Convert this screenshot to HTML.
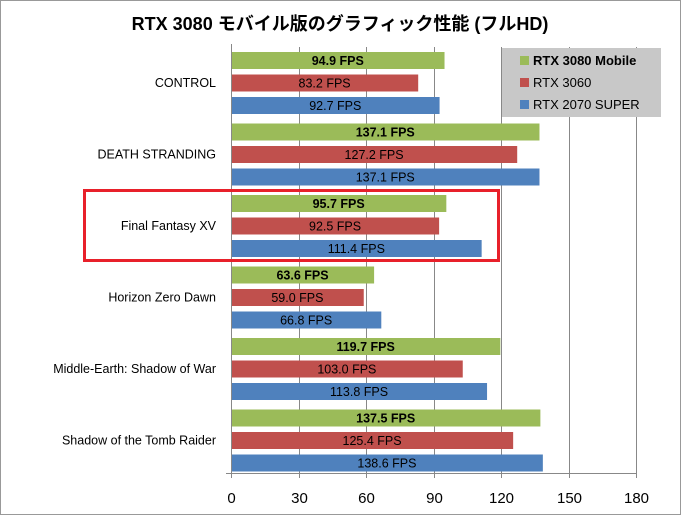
<!DOCTYPE html>
<html><head><meta charset="utf-8"><style>
html,body{margin:0;padding:0;background:#fff}
svg{display:block}
text{font-family:"Liberation Sans","Noto Sans CJK JP",sans-serif}
</style></head><body>
<svg id="c" width="681" height="515" xmlns="http://www.w3.org/2000/svg">
<rect x="0.5" y="0.5" width="680" height="514" fill="#fff" stroke="#999"/>
<text x="340" y="30" text-anchor="middle" font-size="18" font-weight="bold">RTX 3080 モバイル版のグラフィック性能 (フルHD)</text>
<g id="grid"></g><g id="bars"></g><g id="axes"></g>
<g>
<rect x="502" y="48" width="159" height="69" fill="#c8c8c8"/>
<rect x="520" y="56" width="9" height="9" fill="#9bbb59"/>
<text x="533" y="65" font-size="13" font-weight="bold">RTX 3080 Mobile</text>
<rect x="520" y="78" width="9" height="9" fill="#c0504d"/>
<text x="533" y="87" font-size="13">RTX 3060</text>
<rect x="520" y="100" width="9" height="9" fill="#4f81bd"/>
<text x="533" y="109" font-size="13">RTX 2070 SUPER</text>
</g>
<rect x="84.5" y="190.5" width="414" height="70" fill="none" stroke="#e8202a" stroke-width="3"/>
</svg>
<script>
const categories=["CONTROL","DEATH STRANDING","Final Fantasy XV","Horizon Zero Dawn","Middle-Earth: Shadow of War","Shadow of the Tomb Raider"];
const rtx3080m=[94.9,137.1,95.7,63.6,119.7,137.5];
const rtx3060=[83.2,127.2,92.5,59.0,103.0,125.4];
const rtx2070s=[92.7,137.1,111.4,66.8,113.8,138.6];
const ticks=[0,30,60,90,120,150,180];
const NS="http://www.w3.org/2000/svg";
const x0=231,x1=636,vmax=180,yTop=44,yBottom=473;
const xs=v=>x0+(v/vmax)*(x1-x0);
const gh=(yBottom-yTop)/categories.length;
function mk(p,t,a){const e=document.createElementNS(NS,t);for(const k in a)e.setAttribute(k,a[k]);p.appendChild(e);return e;}
const grid=document.getElementById('grid'),bars=document.getElementById('bars'),axes=document.getElementById('axes');
ticks.forEach(t=>{
 const X=Math.round(xs(t))+0.5;
 if(t>0){const g=mk(grid,'line',{x1:X,x2:X,y1:yTop+3,y2:yBottom,stroke:'#888','stroke-width':1});
 
 }
 const tk=mk(axes,'line',{x1:X,x2:X,y1:yBottom,y2:yBottom+5,stroke:'#888'});
 
 
 const tl=mk(axes,'text',{x:X,y:yBottom+30,'text-anchor':'middle','font-size':15});
 tl.textContent=t;
 
 
});
const series=[[rtx3080m,'#9bbb59',true,'rtx3080m'],[rtx3060,'#c0504d',false,'rtx3060'],[rtx2070s,'#4f81bd',false,'rtx2070s']];
categories.forEach((c,i)=>{
 const gt=yTop+i*gh;
 const lab=mk(axes,'text',{x:216,y:gt+gh/2+7,'text-anchor':'end','font-size':12.5});
 lab.textContent=c;
 
 
 series.forEach((s,j)=>{
  const v=s[0][i],y=gt+8+j*22.5;
  const r=mk(bars,'rect',{x:x0,y:y,width:xs(v)-x0,height:17,fill:s[1]});
  
  
  const t=mk(bars,'text',{x:(x0+xs(v))/2,y:y+13,'text-anchor':'middle','font-size':12.5,'font-weight':s[2]?'bold':'normal'});
  t.textContent=v.toFixed(1)+' FPS';
  
  
 });
});
const ax=mk(axes,'line',{x1:x0+0.5,x2:x0+0.5,y1:yTop,y2:yBottom,stroke:'#888'});


const bx=mk(axes,'line',{x1:226,x2:x1,y1:yBottom+0.5,y2:yBottom+0.5,stroke:'#888'});


</script>
</body></html>
